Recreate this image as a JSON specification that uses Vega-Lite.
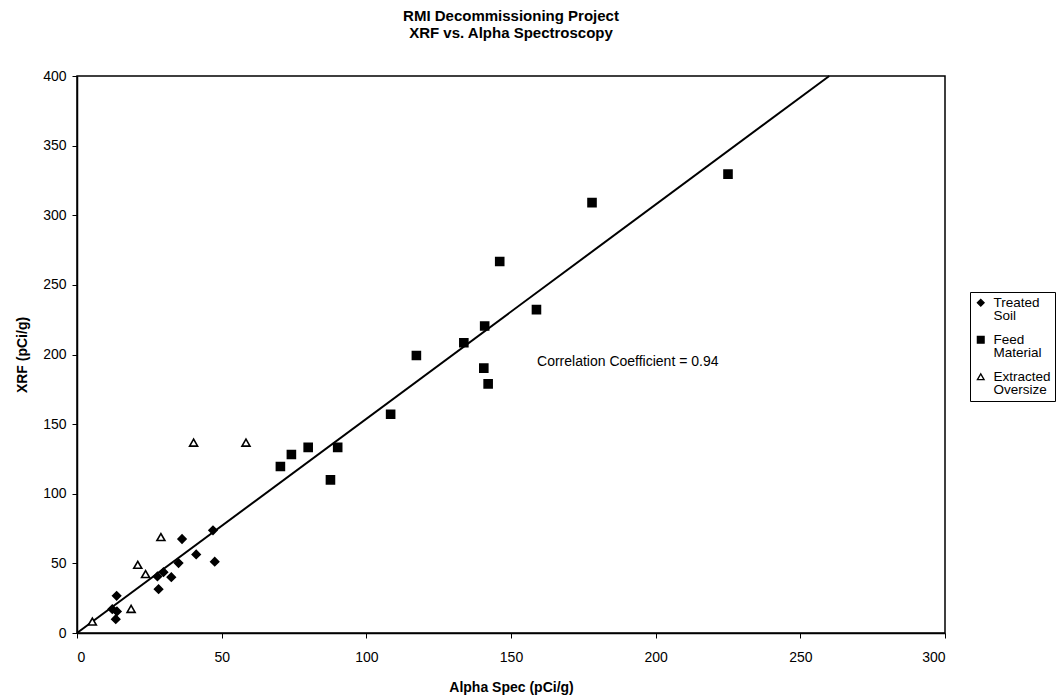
{
  "$schema": "https://vega.github.io/schema/vega-lite/v6.json",
  "width": 868,
  "height": 557,
  "autosize": "none",
  "padding": {"left": 77, "top": 76, "right": 119, "bottom": 67},
  "background": "white",
  "config": {
    "font": "Liberation Sans",
    "view": {"stroke": "black", "strokeWidth": 1.5},
    "style": {"guide-label": {"lineHeight": 13.5}},
    "axis": {"grid": false, "domainColor": "black", "domainWidth": 1.5, "tickColor": "black", "labelColor": "black", "titleColor": "black", "labelFont": "Liberation Sans", "titleFont": "Liberation Sans", "labelFontSize": 14, "titleFontSize": 14, "titleFontWeight": "bold", "tickSize": 5},
    "legend": {"title": null, "orient": "none", "legendX": 893, "legendY": 216, "strokeColor": "black", "fillColor": "white", "padding": 4, "labelFont": "Liberation Sans", "labelFontSize": 13.5, "labelColor": "black", "labelLimit": 0, "labelOffset": 6, "symbolSize": 45, "symbolStrokeWidth": 1.3, "rowPadding": 9, "labelBaseline": "middle"}
  },
  "title": {
    "text": ["RMI Decommissioning Project", "XRF vs. Alpha Spectroscopy"],
    "font": "Liberation Sans",
    "fontSize": 15,
    "fontWeight": "bold",
    "lineHeight": 17,
    "anchor": "middle",
    "frame": "group",
    "offset": 28,
    "color": "black"
  },
  "layer": [
    {
      "data": {"values": [
        {"alpha": 0, "xrf": 0},
        {"alpha": 260, "xrf": 400}
      ]},
      "mark": {"type": "line", "color": "black", "strokeWidth": 2},
      "encoding": {
        "x": {"field": "alpha", "type": "quantitative"},
        "y": {"field": "xrf", "type": "quantitative"}
      }
    },
    {
      "data": {"values": [
        {"group": "Treated Soil", "alpha": 13.7, "xrf": 26.7},
        {"group": "Treated Soil", "alpha": 12.2, "xrf": 17.1},
        {"group": "Treated Soil", "alpha": 13.8, "xrf": 15.5},
        {"group": "Treated Soil", "alpha": 13.4, "xrf": 9.9},
        {"group": "Treated Soil", "alpha": 27.8, "xrf": 40.6},
        {"group": "Treated Soil", "alpha": 28.2, "xrf": 31.5},
        {"group": "Treated Soil", "alpha": 29.9, "xrf": 43.7},
        {"group": "Treated Soil", "alpha": 32.6, "xrf": 40.1},
        {"group": "Treated Soil", "alpha": 35.1, "xrf": 50.2},
        {"group": "Treated Soil", "alpha": 36.3, "xrf": 67.5},
        {"group": "Treated Soil", "alpha": 41.2, "xrf": 56.4},
        {"group": "Treated Soil", "alpha": 47.0, "xrf": 73.7},
        {"group": "Treated Soil", "alpha": 47.6, "xrf": 51.2},
        {"group": "Feed Material", "alpha": 225.0, "xrf": 329.5},
        {"group": "Feed Material", "alpha": 178.0, "xrf": 309.1},
        {"group": "Feed Material", "alpha": 146.1, "xrf": 266.8},
        {"group": "Feed Material", "alpha": 158.8, "xrf": 232.2},
        {"group": "Feed Material", "alpha": 140.9, "xrf": 220.5},
        {"group": "Feed Material", "alpha": 133.7, "xrf": 208.4},
        {"group": "Feed Material", "alpha": 117.3, "xrf": 199.3},
        {"group": "Feed Material", "alpha": 140.6, "xrf": 190.2},
        {"group": "Feed Material", "alpha": 142.1, "xrf": 178.9},
        {"group": "Feed Material", "alpha": 108.4, "xrf": 157.1},
        {"group": "Feed Material", "alpha": 90.1, "xrf": 133.3},
        {"group": "Feed Material", "alpha": 79.9, "xrf": 133.3},
        {"group": "Feed Material", "alpha": 74.1, "xrf": 128.2},
        {"group": "Feed Material", "alpha": 70.3, "xrf": 119.6},
        {"group": "Feed Material", "alpha": 87.6, "xrf": 110.0},
        {"group": "Extracted Oversize", "alpha": 5.3, "xrf": 8.2},
        {"group": "Extracted Oversize", "alpha": 18.7, "xrf": 17.3},
        {"group": "Extracted Oversize", "alpha": 21.0, "xrf": 49.0},
        {"group": "Extracted Oversize", "alpha": 23.7, "xrf": 42.3},
        {"group": "Extracted Oversize", "alpha": 29.0, "xrf": 68.9},
        {"group": "Extracted Oversize", "alpha": 40.3, "xrf": 136.7},
        {"group": "Extracted Oversize", "alpha": 58.4, "xrf": 136.7}
      ]},
      "mark": {"type": "point", "filled": true, "strokeWidth": 1.6, "opacity": 1, "size": 64},
      "encoding": {
        "x": {"field": "alpha", "type": "quantitative", "title": "Alpha Spec (pCi/g)",
              "scale": {"domain": [0, 300], "nice": false},
              "axis": {"values": [0, 50, 100, 150, 200, 250, 300], "labelPadding": 12, "titlePadding": 16}},
        "y": {"field": "xrf", "type": "quantitative", "title": "XRF (pCi/g)",
              "scale": {"domain": [0, 400], "nice": false},
              "axis": {"values": [0, 50, 100, 150, 200, 250, 300, 350, 400], "labelPadding": 6, "titlePadding": 13}},
        "stroke": {"field": "group", "type": "nominal",
                   "scale": {"domain": ["Treated Soil", "Feed Material", "Extracted Oversize"], "range": ["black", "black", "black"]},
                   "legend": {"labelExpr": "split(datum.label, ' ')"}},
        "shape": {"field": "group", "type": "nominal",
                  "scale": {"domain": ["Treated Soil", "Feed Material", "Extracted Oversize"], "range": ["diamond", "square", "triangle-up"]},
                  "legend": {"labelExpr": "split(datum.label, ' ')"}},
        "fill": {"field": "group", "type": "nominal",
                 "scale": {"domain": ["Treated Soil", "Feed Material", "Extracted Oversize"], "range": ["black", "black", "white"]},
                 "legend": {"labelExpr": "split(datum.label, ' ')"}}
      }
    },
    {
      "data": {"values": [
        {"alpha": 159, "xrf": 194.5, "label": "Correlation Coefficient = 0.94"}
      ]},
      "mark": {"type": "text", "align": "left", "baseline": "middle", "fontSize": 14, "font": "Liberation Sans", "color": "black"},
      "encoding": {
        "x": {"field": "alpha", "type": "quantitative"},
        "y": {"field": "xrf", "type": "quantitative"},
        "text": {"field": "label"}
      }
    }
  ]
}
